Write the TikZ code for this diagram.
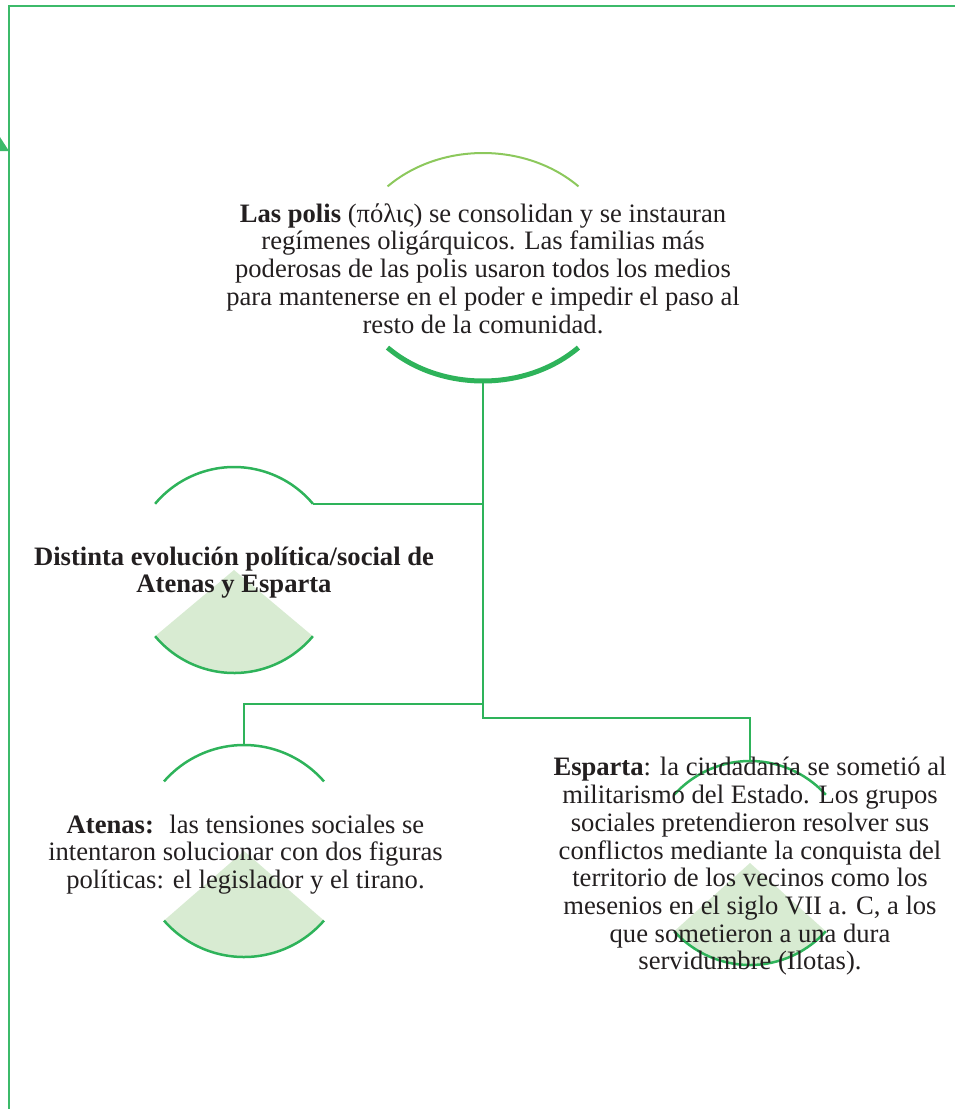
\documentclass[tikz,border=0pt]{standalone}
\usepackage{fontspec}
\setmainfont{Liberation Serif}
\definecolor{gline}{HTML}{2EB35A}
\definecolor{gborder}{HTML}{3CBA6A}
\definecolor{glight}{HTML}{8CC85C}
\definecolor{gfill}{HTML}{D8EBD2}
\definecolor{ink}{HTML}{231F20}
\tikzset{
  arcline/.style={draw=gline,line width=2.5pt},
  conn/.style={draw=gline,line width=2.2pt},
  wedge/.style={fill=gfill},
  txt/.style={font=\fontsize{26.6}{27.7}\selectfont,align=center,text=ink,inner sep=0pt},
}
\begin{document}
\begin{tikzpicture}[x=1pt,y=-1pt]
\useasboundingbox (0,0) rectangle (954,1109);
% frame
\draw[gborder,line width=2pt] (9,1115) -- (9,6) -- (960,6);
\fill[gborder] (-2,134) -- (9,151) -- (-2,151) -- cycle;
% centres
\coordinate (cP) at (483,267);
\coordinate (cD) at (234,570);
\coordinate (cA) at (244,851);
\coordinate (cE) at (750,863);
% arc attachment points
\coordinate (pB) at ([shift={(0pt,-114pt)}]cP);
\coordinate (dT) at ([shift={(40:103pt)}]cD);
\coordinate (aT) at ([shift={(90:106pt)}]cA);
\coordinate (eT) at ([shift={(90:102pt)}]cE);
\coordinate (jA) at (483,704);
\coordinate (jE) at (483,718);
% wedges
\fill[wedge] (cD) -- ([shift={(220:103pt)}]cD) arc[start angle=220,end angle=320,radius=103pt] -- cycle;
\fill[wedge] (cA) -- ([shift={(221:106pt)}]cA) arc[start angle=221,end angle=319,radius=106pt] -- cycle;
\fill[wedge] (cE) -- ([shift={(222:102pt)}]cE) arc[start angle=222,end angle=318,radius=102pt] -- cycle;
% polis arcs
\draw[glight,line width=2pt] ([shift={(95.5pt,80.6pt)}]cP) arc[start angle=45,end angle=135,x radius=135pt,y radius=114pt];
\draw[gline,line width=5pt] ([shift={(-95.5pt,-80.6pt)}]cP) arc[start angle=225,end angle=315,x radius=135pt,y radius=114pt];
% other arcs
\draw[arcline] (dT) arc[start angle=40,end angle=140,radius=103pt];
\draw[arcline] ([shift={(220:103pt)}]cD) arc[start angle=220,end angle=320,radius=103pt];
\draw[arcline] ([shift={(41:106pt)}]cA) arc[start angle=41,end angle=139,radius=106pt];
\draw[arcline] ([shift={(221:106pt)}]cA) arc[start angle=221,end angle=319,radius=106pt];
\draw[arcline] ([shift={(42:102pt)}]cE) arc[start angle=42,end angle=138,radius=102pt];
\draw[arcline] ([shift={(222:102pt)}]cE) arc[start angle=222,end angle=318,radius=102pt];
% connectors
\draw[conn] (pB) -- (jE) -- (jE -| eT) -- (eT);
\draw[conn] (pB |- dT) -- (dT);
\draw[conn] (jA) -- (jA -| aT) -- (aT);
% texts
\node[txt] (polis) at (483,268.5) {\textbf{Las polis} (πόλις) se consolidan y se instauran\\ regímenes oligárquicos. Las familias más\\ poderosas de las polis usaron todos los medios\\ para mantenerse en el poder e impedir el paso al\\ resto de la comunidad.};
\node[txt,font=\fontsize{26.6}{27}\selectfont\bfseries] (dist) at (234,573) {Distinta evolución política/social de\\ Atenas y Esparta};
\node[txt] (atenas) at (245.5,854.5) {\textbf{Atenas:}~ las tensiones sociales se\\ intentaron solucionar con dos figuras\\ políticas: el legislador y el tirano.};
\node[txt] (esparta) at (750,866.5) {\textbf{Esparta}: la ciudadanía se sometió al\\ militarismo del Estado. Los grupos\\ sociales pretendieron resolver sus\\ conflictos mediante la conquista del\\ territorio de los vecinos como los\\ mesenios en el siglo VII a. C, a los\\ que sometieron a una dura\\ servidumbre (Ilotas).};
\end{tikzpicture}
\end{document}
